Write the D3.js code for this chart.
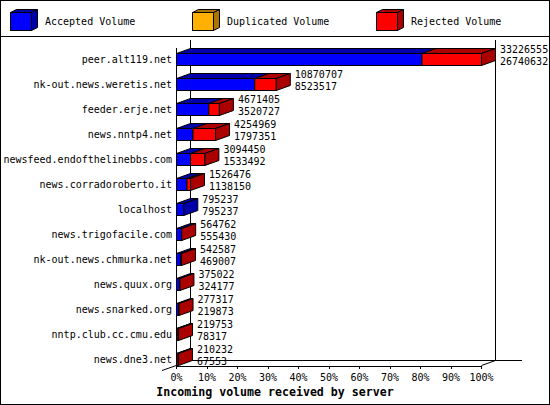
<!DOCTYPE html>
<html>
<head>
<meta charset="utf-8">
<script src="https://cdn.jsdelivr.net/npm/d3@7"></script>
<style>
  body { margin: 0; background: #fff; }
  svg { display: block; }
  text { font-family: "DejaVu Sans Mono", monospace; font-size: 10px; fill: #000; }
</style>
</head>
<body>
<div id="chart"></div>
<script>
// incoming volume per server, stacked 3d bars (accepted / duplicated / rejected)

const servers = ["peer.alt119.net", "nk-out.news.weretis.net", "feeder.erje.net", "news.nntp4.net",
  "newsfeed.endofthelinebbs.com", "news.corradoroberto.it", "localhost", "news.trigofacile.com",
  "nk-out.news.chmurka.net", "news.quux.org", "news.snarked.org", "nntp.club.cc.cmu.edu", "news.dne3.net"];
const accepted = [26740632, 8523517, 3520727, 1797351, 1533492, 1138150, 795237, 555430, 469007, 324177, 219873, 78317, 67553];
const duplicated = [0, 0, 0, 0, 0, 0, 0, 0, 0, 0, 0, 0, 0];
const rejected = [6485923, 2347190, 1150678, 2457618, 1560958, 388326, 0, 9332, 73580, 50845, 57444, 141436, 142679];
const seriesNames = ["Accepted Volume", "Duplicated Volume", "Rejected Volume"];
const pctTicks = [0, 10, 20, 30, 40, 50, 60, 70, 80, 90, 100];

const colors = [
  {front: "#0000ff", dark: "#0000aa"},
  {front: "#ffb000", dark: "#aa7500"},
  {front: "#ff0000", dark: "#aa0000"}
];

var W = 550, H = 405;
var dx = 14, dy = 5;   // depth of the bars
var barH = 12;

var svg = d3.select("#chart").append("svg")
    .attr("width", W)
    .attr("height", H);

// frame
svg.append("rect")
    .attr("x", 0.5).attr("y", 0.5)
    .attr("width", W - 1).attr("height", H - 1)
    .attr("fill", "#fff").attr("stroke", "#000");
svg.append("line")
    .attr("x1", 0).attr("x2", W).attr("y1", 36.5).attr("y2", 36.5)
    .attr("stroke", "#000");

// legend
var legendX = [10, 192, 376];
seriesNames.forEach(function(name, i) {
    let g = svg.append("g").attr("transform", "translate(" + legendX[i] + ",12)");
    let w = 21, h = 18, ldx = 6, ldy = 3;
    g.append("path")
        .attr("d", `M${w + 0.5},0.5 L${w + ldx + 0.5},${-ldy + 0.5} L${w + ldx + 0.5},${h - ldy + 0.5} L${w + 0.5},${h + 0.5}Z`)
        .attr("fill", colors[i].dark).attr("stroke", "#000");
    g.append("path")
        .attr("d", `M0.5,0.5 L${ldx + 0.5},${-ldy + 0.5} L${w + ldx + 0.5},${-ldy + 0.5} L${w + 0.5},0.5Z`)
        .attr("fill", colors[i].dark).attr("stroke", "#000");
    g.append("rect")
        .attr("x", 0.5).attr("y", 0.5).attr("width", w).attr("height", h)
        .attr("fill", colors[i].front).attr("stroke", "#000");
    g.append("text")
        .attr("x", w + 14).attr("y", 12.5)
        .text(name);
});

// scales
let totals = servers.map((s, i) => accepted[i] + duplicated[i] + rejected[i]);
let x0 = 176, x1 = 481;
let x = d3.scaleLinear().domain([0, d3.max(totals)]).range([x0, x1]);
let y = d3.scaleBand().domain(servers).range([46.5, 371.5]);
let pct = d3.scaleLinear().domain([0, 100]).range([x0, x1]);

let floorY = 365, topY = 40;

// walls / floor
let walls = svg.append("g").attr("stroke", "#000").attr("shape-rendering", "crispEdges");
walls.append("line").attr("x1", x0 + 0.5).attr("x2", x0 + 0.5).attr("y1", 48).attr("y2", floorY);
walls.append("line").attr("x1", x0 + dx + 0.5).attr("x2", x0 + dx + 0.5).attr("y1", topY).attr("y2", floorY - dy);
walls.append("line").attr("x1", x1 + dx + 0.5).attr("x2", x1 + dx + 0.5).attr("y1", topY).attr("y2", floorY - dy);
walls.append("line").attr("x1", x0 + dx).attr("x2", 522).attr("y1", floorY - dy + 0.5).attr("y2", floorY - dy + 0.5);
svg.append("line").attr("stroke", "#000")
    .attr("x1", 162).attr("y1", 370.5).attr("x2", x0 + dx + 0.5).attr("y2", floorY - dy + 0.5);
svg.append("line").attr("stroke", "#000")
    .attr("x1", x1 + 0.5).attr("y1", floorY + 0.5).attr("x2", x1 + dx + 0.5).attr("y2", floorY - dy + 0.5);

// x axis
let axis = svg.append("g")
    .attr("transform", "translate(0," + (floorY + 0.5) + ")")
    .call(d3.axisBottom(pct).tickValues(pctTicks).tickFormat(d => d + "%").tickSize(3).tickSizeOuter(0).tickPadding(5));
axis.selectAll("text").style("font-family", "DejaVu Sans Mono, monospace").style("font-size", "10px");
axis.selectAll("path, line").attr("shape-rendering", "crispEdges");

// bars
let bars = svg.append("g").attr("stroke", "#000").attr("stroke-width", 1);
servers.forEach(function(s, i) {
    let c = y(s) + y.bandwidth() / 2;
    let top = Math.round(c - barH / 2) + 0.5;
    let bot = top + barH;
    let vals = [accepted[i], duplicated[i], rejected[i]];
    let start = 0, last = 0;
    vals.forEach(function(v, k) {
        if (v <= 0) return;
        let a = x(start) + 0.5, b = x(start + v) + 0.5;
        bars.append("path")
            .attr("d", `M${a},${top} L${a + dx},${top - dy} L${b + dx},${top - dy} L${b},${top}Z`)
            .attr("fill", colors[k].dark);
        bars.append("path")
            .attr("d", `M${a},${top} L${b},${top} L${b},${bot} L${a},${bot}Z`)
            .attr("fill", colors[k].front);
        start += v;
        last = k;
    });
    let e = x(start) + 0.5;
    bars.append("path")
        .attr("d", `M${e},${top} L${e + dx},${top - dy} L${e + dx},${bot - dy} L${e},${bot}Z`)
        .attr("fill", colors[last].dark);

    // value labels
    svg.append("text")
        .attr("x", x(totals[i]) + 19).attr("y", c - 6)
        .text(totals[i]);
    svg.append("text")
        .attr("x", x(totals[i]) + 19).attr("y", c + 5.5)
        .text(accepted[i]);

    // server names
    svg.append("text")
        .attr("x", 172).attr("y", c + 4)
        .attr("text-anchor", "end")
        .text(s);
});

// title
svg.append("text")
    .attr("x", W / 2).attr("y", 396)
    .attr("text-anchor", "middle")
    .style("font-weight", "bold")
    .style("font-size", "11.6px")
    .text("Incoming volume received by server");
</script>
</body>
</html>
